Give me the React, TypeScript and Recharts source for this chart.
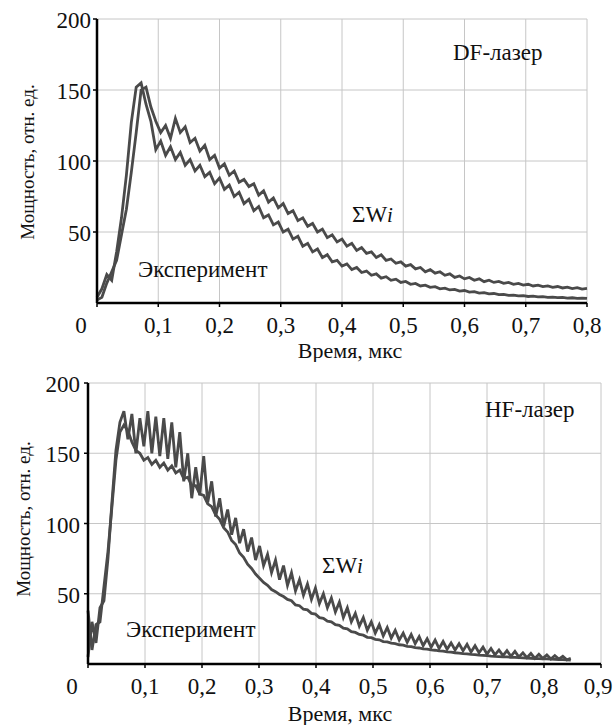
import React from 'react';
import { LineChart, Line, XAxis, YAxis, CartesianGrid, Customized } from 'recharts';

const FONT = 'Liberation Serif';
const INK = '#111';
const LINE = '#4a4a4a';

// ---- DF-лазер (top) ----
const dfTime = [
  0, 0.008, 0.016, 0.024, 0.032, 0.04, 0.048, 0.056, 0.064, 0.072,
  0.08, 0.088, 0.096, 0.104, 0.112, 0.12, 0.128, 0.136, 0.144, 0.152,
  0.16, 0.168, 0.176, 0.184, 0.192, 0.2, 0.208, 0.216, 0.224, 0.232,
  0.24, 0.248, 0.256, 0.264, 0.272, 0.28, 0.288, 0.296, 0.304, 0.312,
  0.32, 0.328, 0.336, 0.344, 0.352, 0.36, 0.368, 0.376, 0.384, 0.392,
  0.4, 0.408, 0.416, 0.424, 0.432, 0.44, 0.448, 0.456, 0.464, 0.472,
  0.48, 0.488, 0.496, 0.504, 0.512, 0.52, 0.528, 0.536, 0.544, 0.552,
  0.56, 0.568, 0.576, 0.584, 0.592, 0.6, 0.608, 0.616, 0.624, 0.632,
  0.64, 0.648, 0.656, 0.664, 0.672, 0.68, 0.688, 0.696, 0.704, 0.712,
  0.72, 0.728, 0.736, 0.744, 0.752, 0.76, 0.768, 0.776, 0.784, 0.792,
  0.8,
];
const dfSum = [
  2, 4, 14, 22, 30, 48, 66, 92, 120, 150,
  152, 138, 128, 120, 125, 116, 130, 120, 124, 113,
  116, 107, 111, 101, 104, 95, 98, 90, 93, 85,
  87, 82, 84, 76, 79, 71, 74, 67, 70, 63,
  65, 58, 60, 54, 56, 50, 52, 46, 48, 43,
  45, 40, 42, 37, 39, 35, 36, 32, 34, 30,
  31, 28, 29, 26, 27, 24, 25, 22, 23.5, 21,
  22, 19.5, 20.5, 18, 19, 17, 18, 16, 17, 15,
  16, 14.5, 15.2, 13.8, 14.5, 13.2, 13.8, 12.6, 13.2, 12,
  12.6, 11.5, 12, 11, 11.6, 10.6, 11.2, 10.2, 10.8, 9.8,
  10.3,
];
const dfExp = [
  4, 10, 20, 16, 36, 60, 90, 127, 152, 155,
  140, 128, 108, 114, 104, 110, 101, 106, 97, 101,
  93, 97, 89, 92, 84, 88, 80, 83, 75, 78,
  70, 73, 65, 68, 60, 62, 55, 57, 50, 52,
  45, 47, 40, 42, 36, 38, 32, 34, 29, 30,
  26, 27.5, 23.5, 25, 21.5, 22.5, 19.5, 20.5, 17.5, 18.5,
  16, 16.8, 14.5, 15.2, 13.2, 13.8, 12, 12.6, 11, 11.5,
  10, 10.5, 9.2, 9.6, 8.4, 8.8, 7.7, 8, 7, 7.3,
  6.4, 6.7, 5.9, 6.1, 5.4, 5.6, 5, 5.2, 4.6, 4.8,
  4.3, 4.5, 4, 4.2, 3.8, 3.9, 3.5, 3.7, 3.3, 3.5,
  3.2,
];
const dfXTicks = [0, 0.1, 0.2, 0.3, 0.4, 0.5, 0.6, 0.7, 0.8];

// ---- HF-лазер (bottom) ----
const hfTime = [
  0, 0.007, 0.014, 0.021, 0.028, 0.035, 0.042, 0.049, 0.056, 0.063,
  0.07, 0.077, 0.084, 0.091, 0.098, 0.105, 0.112, 0.119, 0.126, 0.133,
  0.14, 0.147, 0.154, 0.161, 0.168, 0.175, 0.182, 0.189, 0.196, 0.203,
  0.21, 0.217, 0.224, 0.231, 0.238, 0.245, 0.252, 0.259, 0.266, 0.273,
  0.28, 0.287, 0.294, 0.301, 0.308, 0.315, 0.322, 0.329, 0.336, 0.343,
  0.35, 0.357, 0.364, 0.371, 0.378, 0.385, 0.392, 0.399, 0.406, 0.413,
  0.42, 0.427, 0.434, 0.441, 0.448, 0.455, 0.462, 0.469, 0.476, 0.483,
  0.49, 0.497, 0.504, 0.511, 0.518, 0.525, 0.532, 0.539, 0.546, 0.553,
  0.56, 0.567, 0.574, 0.581, 0.588, 0.595, 0.602, 0.609, 0.616, 0.623,
  0.63, 0.637, 0.644, 0.651, 0.658, 0.665, 0.672, 0.679, 0.686, 0.693,
  0.7, 0.707, 0.714, 0.721, 0.728, 0.735, 0.742, 0.749, 0.756, 0.763,
  0.77, 0.777, 0.784, 0.791, 0.798, 0.805, 0.812, 0.819, 0.826, 0.833,
  0.84, 0.847,
];
const hfSum = [
  5, 30, 15, 40, 45, 75, 115, 152, 172, 180,
  160, 178, 150, 175, 155, 180, 150, 176, 148, 175,
  146, 172, 140, 165, 130, 150, 118, 140, 120, 148,
  115, 130, 105, 118, 98, 110, 92, 104, 86, 96,
  80, 90, 74, 84, 70, 78, 65, 74, 60, 70,
  56, 65, 52, 60, 49, 57, 46, 54, 43, 50,
  40, 47, 37, 44, 33, 40, 30, 36, 27, 33,
  24, 30, 22, 28, 20, 26, 18.5, 24, 17, 22,
  15.5, 21, 14.5, 19.5, 13, 18, 12, 17, 11, 16,
  10.5, 15, 10, 14.5, 9.5, 14, 8.5, 13, 8, 12,
  7, 11, 6.5, 10, 6, 9.5, 5.5, 9, 5, 8,
  4.5, 7.5, 4, 7, 4, 6.5, 3.5, 6, 3.5, 5.5,
  3, 4,
];
const hfExp = [
  38, 10, 28, 30, 55, 80, 112, 145, 165, 170,
  166, 158, 152, 150, 145, 147, 142, 145, 140, 143,
  138, 141, 136, 138, 132, 133, 127, 127, 121, 120,
  114, 112, 106, 103, 97, 94, 88, 85, 79, 76,
  71, 68, 64, 61, 58, 56, 53, 51.5, 49.5, 48,
  46, 45, 42, 41.5, 39, 38.5, 36, 35.5, 33, 32.5,
  30.5, 30, 28, 27.5, 25.5, 25, 23, 22.5, 21, 20.5,
  19, 18.7, 17.5, 17.2, 16, 15.7, 14.8, 14.5, 13.7, 13.4,
  12.6, 12.3, 11.6, 11.4, 10.8, 10.6, 10, 9.8, 9.3, 9.1,
  8.6, 8.4, 8, 7.8, 7.4, 7.2, 6.8, 6.7, 6.3, 6.2,
  5.9, 5.6, 5.4, 5.3, 5.1, 5, 4.8, 4.7, 4.5, 4.4,
  4.2, 4.1, 3.9, 3.8, 3.7, 3.6, 3.4, 3.3, 3.2, 3.1,
  3, 2.8,
];
const hfXTicks = [0, 0.1, 0.2, 0.3, 0.4, 0.5, 0.6, 0.7, 0.8, 0.9];

const yTicks = [50, 100, 150, 200];

const dfData = dfTime.map((t, i) => ({ t, sum: dfSum[i], exp: dfExp[i] }));
const hfData = hfTime.map((t, i) => ({ t, sum: hfSum[i], exp: hfExp[i] }));

const XTick = (props: any) => {
  const { x, y, payload } = props;
  // corner "0" sits left of the axis, last label is kept inside the frame
  const shift = payload.value === 0 ? -16 : payload.value === 0.9 ? -3 : 0;
  return (
    <text x={x + shift} y={y} dy={24} textAnchor="middle" fontSize={23} fontFamily={FONT} fill={INK}>
      {String(payload.value).replace('.', ',')}
    </text>
  );
};

const YTick = (props: any) => {
  const { x, y, payload } = props;
  return (
    <text x={x} y={y} dy={9} textAnchor="end" fontSize={23} fontFamily={FONT} fill={INK}>
      {payload.value}
    </text>
  );
};

interface NotesProps {
  title: string;
  titleX: number;
  titleY: number;
  sumX: number;
  sumY: number;
  expX: number;
  expY: number;
  yLabelX: number;
  yLabelY: number;
  xLabelX: number;
  xLabelY: number;
}

const Notes = (p: NotesProps) => (
  <g fill={INK}>
    <text x={p.titleX} y={p.titleY} fontSize={23} fontFamily={FONT}>{p.title}</text>
    <text x={p.sumX} y={p.sumY} fontSize={23} fontFamily={FONT}>
      <tspan>ΣW</tspan>
      <tspan fontStyle="italic" fontSize={21}>i</tspan>
    </text>
    <text x={p.expX} y={p.expY} fontSize={23} fontFamily={FONT}>Эксперимент</text>
    <text x={p.xLabelX} y={p.xLabelY} fontSize={22} textAnchor="middle" fontFamily={FONT}>
      Время, мкс
    </text>
    <text
      x={p.yLabelX}
      y={p.yLabelY}
      fontSize={19}
      textAnchor="middle"
      dominantBaseline="central"
      fontFamily={FONT}
      transform={`rotate(-90 ${p.yLabelX} ${p.yLabelY})`}
    >
      Мощность, отн. ед.
    </text>
  </g>
);

const axisLine = { stroke: '#000', strokeWidth: 2.5 };
const tickLine = { stroke: '#000', strokeWidth: 1.5 };

const App: React.FC = () => {
  return (
    <div style={{ position: 'absolute', left: 0, top: 0, width: 613, height: 725, background: '#fff' }}>
      <div style={{ position: 'absolute', left: 0, top: 0 }}>
        <LineChart width={613} height={362} data={dfData} margin={{ top: 19, right: 26, bottom: 0, left: 0 }}>
          <CartesianGrid stroke="#c6c6c6" strokeWidth={1} />
          <XAxis
            dataKey="t"
            type="number"
            domain={[0, 0.8]}
            ticks={dfXTicks}
            height={59}
            tickSize={4}
            tick={(p: any) => <XTick {...p} />}
            axisLine={axisLine}
            tickLine={tickLine}
          />
          <YAxis
            type="number"
            domain={[0, 200]}
            ticks={yTicks}
            width={97}
            tickSize={4}
            tick={(p: any) => <YTick {...p} />}
            axisLine={axisLine}
            tickLine={tickLine}
          />
          <Line type="linear" dataKey="sum" stroke={LINE} strokeWidth={2.8} dot={false} isAnimationActive={false} />
          <Line type="linear" dataKey="exp" stroke={LINE} strokeWidth={2.8} dot={false} isAnimationActive={false} />
          <Customized
            component={() => (
              <Notes
                title="DF-лазер" titleX={453} titleY={60}
                sumX={352} sumY={222} expX={138} expY={277}
                yLabelX={27} yLabelY={162} xLabelX={350} xLabelY={358}
              />
            )}
          />
        </LineChart>
      </div>
      <div style={{ position: 'absolute', left: 0, top: 362 }}>
        <LineChart width={613} height={363} data={hfData} margin={{ top: 21, right: 12, bottom: 0, left: 0 }}>
          <CartesianGrid stroke="#c6c6c6" strokeWidth={1} />
          <XAxis
            dataKey="t"
            type="number"
            domain={[0, 0.9]}
            ticks={hfXTicks}
            height={61}
            tickSize={4}
            tick={(p: any) => <XTick {...p} />}
            axisLine={axisLine}
            tickLine={tickLine}
          />
          <YAxis
            type="number"
            domain={[0, 200]}
            ticks={yTicks}
            width={88}
            tickSize={4}
            tickMargin={4}
            tick={(p: any) => <YTick {...p} />}
            axisLine={axisLine}
            tickLine={tickLine}
          />
          <Line type="linear" dataKey="sum" stroke={LINE} strokeWidth={2.8} dot={false} isAnimationActive={false} />
          <Line type="linear" dataKey="exp" stroke={LINE} strokeWidth={2.8} dot={false} isAnimationActive={false} />
          <Customized
            component={() => (
              <Notes
                title="HF-лазер" titleX={485} titleY={55}
                sumX={322} sumY={211} expX={126} expY={275}
                yLabelX={23} yLabelY={157} xLabelX={340} xLabelY={359}
              />
            )}
          />
        </LineChart>
      </div>
    </div>
  );
};

export default App;
